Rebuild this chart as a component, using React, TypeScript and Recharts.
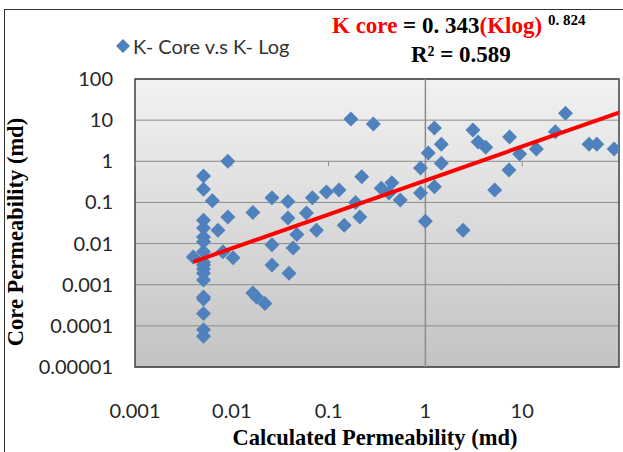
import React from 'react';
import { ScatterChart, Scatter, XAxis, YAxis, CartesianGrid, ReferenceLine, ReferenceArea } from 'recharts';

// K-log (x) and K-core (y), in md
const kLog = [
  0.0051, 0.0051, 0.0051, 0.0051, 0.0051, 0.0051, 0.0051, 0.0051, 0.0051, 0.0051,
  0.0051, 0.0051, 0.0051, 0.0051, 0.0051, 0.0051, 0.0051, 0.004, 0.0063, 0.0091,
  0.0091, 0.0072, 0.0081, 0.0103, 0.0165, 0.026, 0.038, 0.038, 0.059, 0.068,
  0.075, 0.095, 0.128, 0.145, 0.19, 0.21, 0.22, 0.17, 0.29, 0.35,
  0.45, 0.42, 0.55, 0.89, 0.89, 1.0, 1.07, 1.24, 1.24, 1.46,
  1.46, 2.45, 3.1, 3.5, 4.2, 5.2, 7.4, 7.3, 9.4, 14,
  22, 28, 49, 59, 89, 0.026, 0.026, 0.039, 0.043, 0.047,
  0.018, 0.022, 0.0165,
];
const kCore = [
  0.44, 0.21, 0.037, 0.024, 0.0145, 0.011, 0.0063, 0.0035, 0.0024, 0.0019,
  0.0013, 0.0005, 0.00045, 0.0002, 0.00008, 0.000056, 0.003, 0.0047, 0.11, 1.0,
  0.044, 0.021, 0.0063, 0.0045, 0.057, 0.13, 0.105, 0.042, 0.055, 0.13,
  0.021, 0.18, 0.2, 0.028, 0.1, 0.044, 0.42, 10.7, 8.1, 0.22,
  0.3, 0.17, 0.115, 0.69, 0.17, 0.035, 1.6, 6.4, 0.24, 2.6,
  0.9, 0.021, 5.8, 2.95, 2.2, 0.2, 3.9, 0.61, 1.5, 2.0,
  5.2, 14.8, 2.6, 2.6, 2.0, 0.0093, 0.003, 0.0019, 0.0078, 0.0165,
  0.0005, 0.00035, 0.00063,
];

// power trendline ends: K core = 0.343 (Klog)^0.824
const trendX = [0.004, 100];
const trendY = [0.0036, 15.3];

const xTicks = [0.001, 0.01, 0.1, 1, 10];
const xTickLabels = ['0.001', '0.01', '0.1', '1', '10'];
const yTicks = [0.00001, 0.0001, 0.001, 0.01, 0.1, 1, 10, 100];
const yTickLabels = ['0.00001', '0.0001', '0.001', '0.01', '0.1', '1', '10', '100'];

const points = kLog.map((x, i) => ({ x, y: kCore[i] }));
const trend = trendX.map((x, i) => ({ x, y: trendY[i] }));

const BLUE = '#4F81BD';
const serif = '"Liberation Serif", "Times New Roman", serif';
const sans = 'Lato, "Open Sans", sans-serif';

const Diamond = (props: any) => {
  const { cx, cy } = props;
  const r = 7.5;
  return <polygon points={`${cx},${cy - r} ${cx + r},${cy} ${cx},${cy + r} ${cx - r},${cy}`} fill={BLUE} />;
};

const XTick = ({ x, y, payload }: any) => {
  const i = xTicks.indexOf(payload.value);
  return (
    <text x={x} y={y + 49} textAnchor="middle" fill="#262626" fontSize={20} fontFamily={sans}>
      {xTickLabels[i]}
    </text>
  );
};

const YTick = ({ y, payload }: any) => {
  const i = yTicks.indexOf(payload.value);
  return (
    <text x={113} y={y + 7} textAnchor="end" fill="#262626" fontSize={20} fontFamily={sans}>
      {yTickLabels[i]}
    </text>
  );
};

const App: React.FC = () => {
  return (
    <div style={{ position: 'absolute', left: 0, top: 0, width: 623, height: 452, overflow: 'hidden', background: '#fff' }}>
      <div style={{ position: 'absolute', left: 4, top: 9, width: 700, height: 500, borderLeft: '1.5px solid #333', borderTop: '1.5px solid #333' }} />

      <ScatterChart width={623} height={452} margin={{ top: 79, right: 4, bottom: 0, left: 0 }} style={{ position: 'absolute', left: 0, top: 0 }}>
        <defs>
          <linearGradient id="plotBg" x1="0" y1="0" x2="0" y2="1">
            <stop offset="0%" stopColor="#f2f2f2" />
            <stop offset="100%" stopColor="#c3c3c3" />
          </linearGradient>
        </defs>
        <CartesianGrid vertical={false} stroke="#8c8c8c" fill="url(#plotBg)" fillOpacity={1} />
        <XAxis
          dataKey="x"
          type="number"
          scale="log"
          domain={[0.001, 100]}
          ticks={xTicks}
          allowDataOverflow
          axisLine={false}
          tickLine={false}
          tickSize={0}
          height={85}
          tick={<XTick />}
        />
        <YAxis
          dataKey="y"
          type="number"
          scale="log"
          domain={[0.00001, 100]}
          ticks={yTicks}
          allowDataOverflow
          axisLine={false}
          tickLine={false}
          tickSize={0}
          width={135}
          tick={<YTick />}
        />
        <ReferenceLine x={1} stroke="#8c8c8c" strokeWidth={1.5} />
        {xTicks.map((t) => (
          <ReferenceLine key={t} segment={[{ x: t, y: 1 }, { x: t, y: 0.75 }]} stroke="#8c8c8c" />
        ))}
        <ReferenceArea x1={0.001} x2={100} y1={0.00001} y2={100} fill="none" stroke="#404040" strokeWidth={1.5} ifOverflow="visible" />
        <Scatter name="K- Core v.s K- Log" data={points} shape={<Diamond />} isAnimationActive={false} />
        <Scatter
          data={trend}
          line={{ stroke: '#ff0000', strokeWidth: 4 }}
          shape={() => <g />}
          legendType="none"
          isAnimationActive={false}
        />
      </ScatterChart>

      {/* legend */}
      <div style={{ position: 'absolute', left: 116, top: 34, display: 'flex', alignItems: 'center', fontFamily: sans, fontSize: 20, color: '#333', whiteSpace: 'nowrap' }}>
        <svg width={14} height={14} style={{ marginRight: 3 }}>
          <polygon points="7,0 14,7 7,14 0,7" fill={BLUE} />
        </svg>
        K- Core v.s K- Log
      </div>

      <div style={{ position: 'absolute', left: 332, top: 13, fontFamily: serif, fontWeight: 'bold', fontSize: 23, whiteSpace: 'nowrap', color: '#000' }}>
        <span style={{ color: '#ff0000' }}>K core</span> = 0. 343<span style={{ color: '#ff0000' }}>(Klog)</span>
        <span style={{ fontSize: 15, position: 'relative', top: -8, marginLeft: 6 }}>0. 824</span>
      </div>
      <div style={{ position: 'absolute', left: 411, top: 42, fontFamily: serif, fontWeight: 'bold', fontSize: 23, whiteSpace: 'nowrap' }}>
        R² = 0.589
      </div>
      <div style={{ position: 'absolute', left: 16, top: 232, transform: 'translate(-50%, -50%) rotate(-90deg)', fontFamily: serif, fontWeight: 'bold', fontSize: 22.5, whiteSpace: 'nowrap' }}>
        Core Permeability (md)
      </div>
      <div style={{ position: 'absolute', left: 375, top: 425, transform: 'translateX(-50%)', fontFamily: serif, fontWeight: 'bold', fontSize: 22.5, whiteSpace: 'nowrap' }}>
        Calculated Permeability (md)
      </div>
    </div>
  );
};

export default App;
